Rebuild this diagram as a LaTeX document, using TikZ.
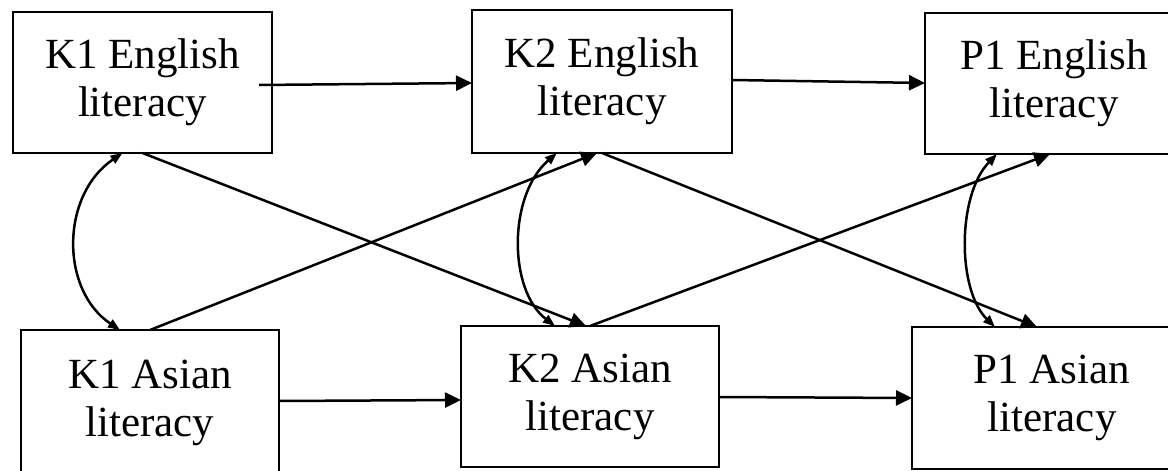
\documentclass[tikz,border=0pt]{standalone}
\usepackage{fontspec}
\setmainfont{Liberation Serif}
\usetikzlibrary{arrows.meta,calc}
\begin{document}
\begin{tikzpicture}[x=1pt,y=-1pt,
  box/.style={draw,line width=2.8pt,rectangle,inner sep=0pt,outer sep=0pt,align=center,
    font=\fontsize{43}{48}\selectfont},
  path/.style={line width=2.5pt,-{Triangle[length=16pt,width=15pt]}},
  cov/.style={line width=2.5pt,{Triangle[length=12pt,width=9pt]}-{Triangle[length=12pt,width=9pt]}}]
\useasboundingbox[fill=white] (0,0) rectangle (1168,471);
\node[box,minimum width=259pt,minimum height=141pt] (K1E) at (142.5,82.5) {K1 English\\literacy};
\node[box,minimum width=260pt,minimum height=143pt] (K2E) at (602,81.5) {K2 English\\literacy};
\node[box,minimum width=258pt,minimum height=141pt] (P1E) at (1054,83.5) {P1 English\\literacy};
\node[box,minimum width=258pt,minimum height=146pt] (K1A) at (150,403) {K1 Asian\\literacy};
\node[box,minimum width=258pt,minimum height=141pt] (K2A) at (590,396.5) {K2 Asian\\literacy};
\node[box,minimum width=280pt,minimum height=142pt] (P1A) at (1052,398) {P1 Asian\\literacy};
% horizontal paths
\draw[path] ($(K1E.east)+(-13,2.5)$) -- ($(K2E.west)+(0,1.5)$);
\draw[path] ($(K2E.east)+(0,-1.5)$) -- ($(P1E.west)+(0,-0.5)$);
\draw[path] ($(K1A.east)+(0,-2)$) -- ($(K2A.west)+(0,3.5)$);
\draw[path] ($(K2A.east)+(0,0.5)$) -- (P1A.west);
% cross paths
\draw[path] (K1E.south) -- ($(K2A.north)+(-4,0)$);
\draw[path] (K1A.north) -- ($(K2E.south)+(-5,0)$);
\draw[path] (K2E.south) -- ($(P1A.north)+(-15,0)$);
\draw[path] (K2A.north) -- ($(P1E.south)+(-4,0)$);
% covariances
\draw[cov] ($(K1E.south)+(-20,0)$) .. controls ($(K1E.south)+(-82,42)$) and ($(K1A.north)+(-90,-40)$) .. ($(K1A.north)+(-30,0)$);
\draw[cov] ($(K2E.south)+(-45,0)$) .. controls ($(K2E.south)+(-94,42)$) and ($(K2A.north)+(-82,-36)$) .. ($(K2A.north)+(-35,0)$);
\draw[cov] ($(P1E.south)+(-57,0)$) .. controls ($(P1E.south)+(-97,41)$) and ($(P1A.north)+(-95,-37)$) .. ($(P1A.north)+(-57,0)$);
\end{tikzpicture}
\end{document}
